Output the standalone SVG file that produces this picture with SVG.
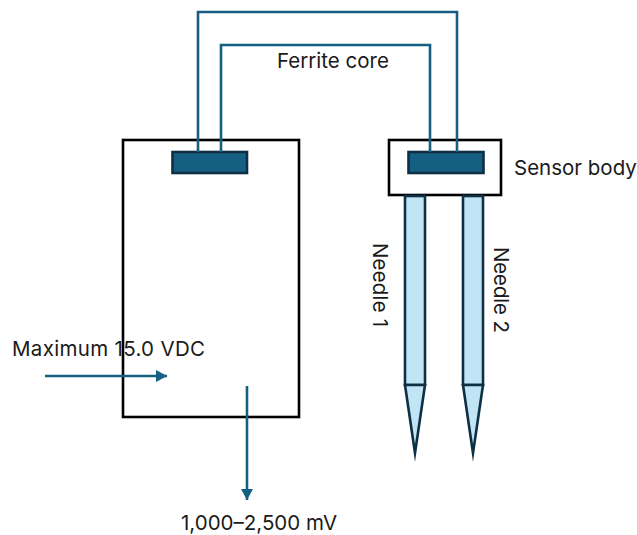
<svg xmlns="http://www.w3.org/2000/svg" width="637" height="535" viewBox="0 0 637 535">
<style>
text{font-family:Inter,"Noto Sans","Liberation Sans",sans-serif;font-size:20.500px;fill:#1a1a1a}
.body{fill:#fff;stroke:#000;stroke-width:2.6}
.core{fill:#156082;stroke:#0e2f44;stroke-width:2.6}
.wire{fill:none;stroke:#156082;stroke-width:2.6}
.needle{fill:#c1e5f5;stroke:#0e2f44;stroke-width:2.6;stroke-miterlimit:10}
</style>
<defs>
<marker id="a" markerUnits="userSpaceOnUse" markerWidth="12" markerHeight="12" refX="11" refY="6" orient="auto"><path d="M0 0L11 6L0 12Z" fill="#156082"/></marker>
</defs>
<g id="controller"><rect class="body" x="123" y="140" width="176" height="277"/></g>
<g id="controller-core"><rect class="core" x="172.500" y="152" width="74.500" height="21"/></g>
<g id="sensor-body"><rect class="body" x="389" y="140" width="112" height="55"/></g>
<g id="sensor-core"><rect class="core" x="408.500" y="152" width="75" height="21"/></g>
<g id="needle-1"><rect class="needle" x="405" y="196" width="20" height="189"/><path class="needle" d="M405 385H425L415 453Z"/></g>
<g id="needle-2"><rect class="needle" x="463" y="196" width="20" height="189"/><path class="needle" d="M463 385H483L473 453Z"/></g>
<g id="connectors">
<path class="wire" d="M198 152V12H457V152"/>
<path class="wire" d="M221 152V45H430V152"/>
<path class="wire" marker-end="url(#a)" d="M45 376H167"/>
<path class="wire" marker-end="url(#a)" d="M247 386V500"/>
</g>
<g id="labels">
<text x="277" y="68">Ferrite core</text>
<text x="514" y="175">Sensor body</text>
<text x="12" y="356" textLength="193">Maximum 15.0 VDC</text>
<text x="181" y="530">1,000–2,500 mV</text>
<text transform="translate(373 243) rotate(90)" textLength="84">Needle 1</text>
<text transform="translate(494 247) rotate(90)" textLength="86">Needle 2</text>
</g>
</svg>
